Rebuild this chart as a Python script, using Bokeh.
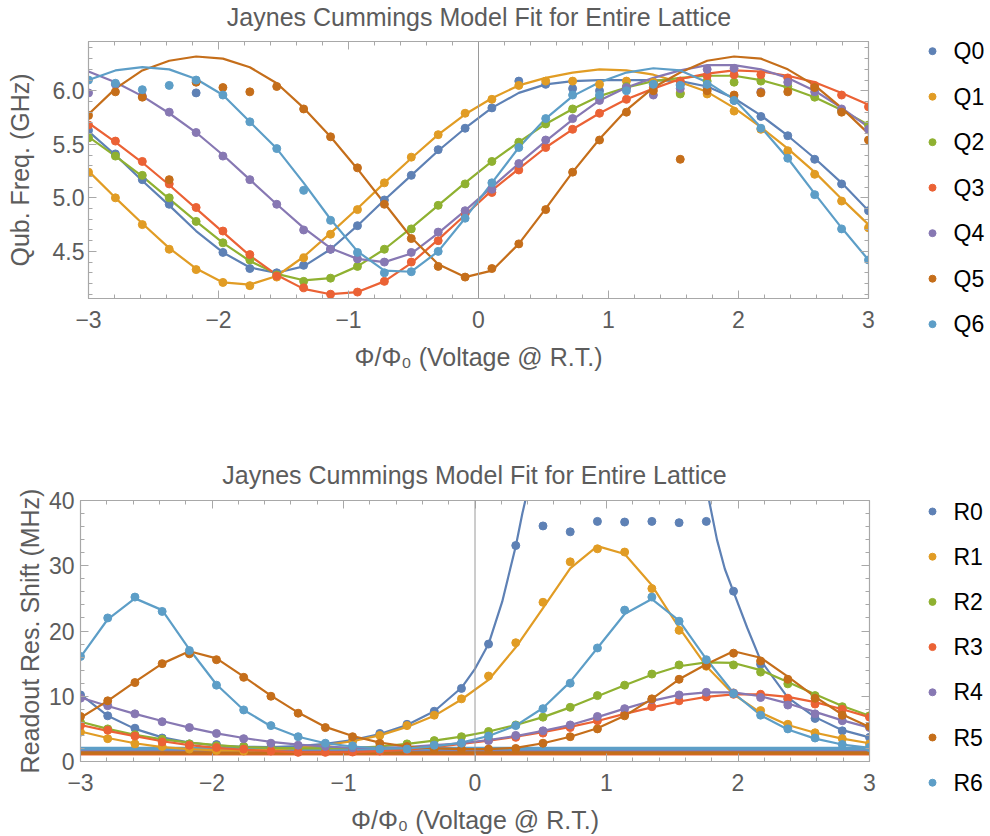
import numpy as np
from bokeh.plotting import figure
from bokeh.models import Range1d, Span, LinearAxis, FixedTicker
from bokeh.layouts import column, row
from bokeh.core.properties import value
from bokeh.embed import file_html
from bokeh.resources import INLINE

# ---------------- data ----------------
X = [-3.0, -2.793, -2.586, -2.379, -2.172, -1.966, -1.759, -1.552, -1.345, -1.138,
     -0.931, -0.724, -0.517, -0.310, -0.103, 0.103, 0.310, 0.517, 0.724, 0.931,
     1.138, 1.345, 1.552, 1.759, 1.966, 2.172, 2.379, 2.586, 2.793, 3.0]

X_TICKS = [-3, -2, -1, 0, 1, 2, 3]
X_TICK_LABELS = ["\u22123", "\u22122", "\u22121", "0", "1", "2", "3"]
Q_Y_TICKS = [4.5, 5.0, 5.5, 6.0]
Q_Y_TICK_LABELS = ["4.5", "5.0", "5.5", "6.0"]
R_Y_TICKS = [0, 10, 20, 30, 40]
R_Y_TICK_LABELS = ["0", "10", "20", "30", "40"]

Q_NAMES = ["Q0", "Q1", "Q2", "Q3", "Q4", "Q5", "Q6"]
R_NAMES = ["R0", "R1", "R2", "R3", "R4", "R5", "R6"]

Q0 = [5.63, 5.41, 5.17, 4.94, 5.98, 4.49, 4.34, 4.30, 4.37, 4.52, 4.74, 4.98, 5.21, 5.45, 5.65,
      5.84, 6.09, 6.06, 6.02, 6.00, 6.03, 6.08, 6.06, 6.03, 5.91, 5.76, 5.58, 5.36, 5.13, 4.88]
Q0_FIT = [5.62, 5.40, 5.16, 4.93, 4.69, 4.49, 4.35, 4.30, 4.36, 4.52, 4.74, 4.98, 5.21, 5.44, 5.65,
          5.84, 5.98, 6.06, 6.09, 6.10, 6.10, 6.10, 6.09, 6.04, 5.93, 5.77, 5.58, 5.37, 5.14, 4.88]
Q1 = [5.24, 5.00, 4.75, 4.52, 4.33, 4.21, 4.18, 4.26, 4.44, 4.66, 4.89, 5.14, 5.38, 5.59, 5.79,
      5.92, 6.05, 6.09, 6.09, 6.06, 6.09, 6.08, 5.98, 5.97, 5.81, 5.64, 5.44, 5.22, 4.97, 4.72]
Q1_FIT = [5.25, 5.00, 4.76, 4.53, 4.34, 4.21, 4.19, 4.27, 4.45, 4.67, 4.90, 5.14, 5.37, 5.59, 5.78,
          5.93, 6.05, 6.12, 6.17, 6.20, 6.19, 6.15, 6.08, 5.99, 5.84, 5.66, 5.46, 5.24, 4.99, 4.75]
Q2 = [5.56, 5.39, 5.21, 5.00, 4.78, 4.58, 4.42, 4.28, 4.22, 4.25, 4.36, 4.52, 4.71, 4.93, 5.13,
      5.34, 5.52, 5.69, 5.83, 5.94, 6.04, 6.06, 5.97, 6.09, 6.08, 6.09, 6.04, 5.94, 5.82, 5.68]
Q2_FIT = [5.57, 5.39, 5.20, 4.99, 4.78, 4.58, 4.41, 4.29, 4.23, 4.25, 4.36, 4.52, 4.72, 4.93, 5.14,
          5.34, 5.52, 5.69, 5.83, 5.95, 6.03, 6.09, 6.12, 6.14, 6.14, 6.10, 6.03, 5.94, 5.82, 5.68]
Q3 = [5.68, 5.53, 5.34, 5.13, 4.91, 4.69, 4.47, 4.27, 4.16, 4.10, 4.12, 4.22, 4.40, 4.60, 4.85,
      5.05, 5.26, 5.47, 5.64, 5.79, 5.92, 6.03, 6.09, 6.14, 6.15, 6.15, 6.12, 6.05, 5.96, 5.85]
Q3_FIT = [5.70, 5.52, 5.33, 5.12, 4.90, 4.68, 4.46, 4.28, 4.15, 4.10, 4.12, 4.22, 4.39, 4.61, 4.84,
          5.07, 5.27, 5.47, 5.64, 5.79, 5.92, 6.02, 6.11, 6.16, 6.19, 6.18, 6.14, 6.08, 5.98, 5.87]
Q4 = [5.98, 6.06, 5.95, 5.80, 5.61, 5.39, 5.17, 4.94, 4.70, 4.52, 4.43, 4.40, 4.49, 4.68, 4.88,
      5.08, 5.32, 5.54, 5.74, 5.91, 6.03, 5.96, 6.02, 6.20, 6.21, 5.99, 6.08, 5.99, 5.83, 5.64]
Q4_FIT = [6.18, 6.08, 5.95, 5.79, 5.61, 5.40, 5.17, 4.94, 4.72, 4.53, 4.43, 4.40, 4.48, 4.67, 4.88,
          5.10, 5.32, 5.53, 5.73, 5.91, 6.03, 6.12, 6.19, 6.24, 6.24, 6.20, 6.12, 6.00, 5.84, 5.66]
Q5 = [5.77, 5.99, 5.94, 5.17, 6.08, 6.03, 5.99, 6.04, 5.83, 5.57, 5.28, 4.94, 4.62, 4.36, 4.26,
      4.34, 4.57, 4.89, 5.24, 5.54, 5.80, 6.00, 5.36, 6.00, 5.96, 5.98, 5.99, 6.03, 5.80, 5.54]
Q5_FIT = [5.78, 6.02, 6.19, 6.28, 6.32, 6.30, 6.22, 6.07, 5.84, 5.57, 5.27, 4.95, 4.63, 4.38, 4.26,
          4.32, 4.57, 4.90, 5.24, 5.55, 5.82, 6.03, 6.17, 6.28, 6.32, 6.30, 6.20, 6.05, 5.84, 5.60]
Q6 = [6.10, 6.07, 6.01, 6.05, 6.10, 5.96, 5.71, 5.46, 5.07, 4.79, 4.49, 4.30, 4.31, 4.50, 4.81,
      5.14, 5.47, 5.74, 5.96, 5.96, 6.00, 6.06, 6.05, 6.06, 5.91, 5.65, 5.37, 5.03, 4.71, 4.42]
Q6_FIT = [6.10, 6.19, 6.22, 6.20, 6.11, 5.96, 5.71, 5.46, 5.14, 4.80, 4.50, 4.32, 4.31, 4.50, 4.81,
          5.14, 5.47, 5.74, 5.95, 6.08, 6.17, 6.21, 6.19, 6.08, 5.92, 5.66, 5.37, 5.04, 4.72, 4.42]

R0 = [10.2, 7.0, 5.1, 3.6, 2.7, 2.6, 2.3, 2.2, 2.3, 2.6, 3.2, 4.3, 5.7, 7.7, 11.2,
      18.0, 33.1, 36.1, 35.2, 36.8, 36.7, 36.8, 36.6, 36.8, 26.1, 14.9, 9.5, 6.6, 4.7, 3.7]
R0_FIT_LEFT_X = [-3.0, -2.793, -2.586, -2.379, -2.172, -1.966, -1.759, -1.552, -1.345, -1.138,
                 -0.931, -0.724, -0.517, -0.310, -0.103, 0.0, 0.103, 0.207, 0.310, 0.36, 0.40, 0.44]
R0_FIT_LEFT_Y = [10.3, 7.0, 5.0, 3.7, 2.9, 2.45, 2.25, 2.2, 2.35, 2.7,
                 3.3, 4.2, 5.6, 7.7, 11.3, 14.2, 18.0, 24.5, 33.0, 38.0, 41.5, 47.0]
R0_FIT_RIGHT_X = [1.74, 1.78, 1.84, 1.90, 1.966, 2.07, 2.172, 2.379, 2.586, 2.793, 3.0]
R0_FIT_RIGHT_Y = [50.0, 40.0, 34.0, 29.5, 26.0, 20.5, 15.5, 9.8, 6.8, 4.8, 3.7]
R1 = [4.5, 3.5, 2.7, 2.3, 1.9, 1.7, 1.6, 1.8, 2.1, 2.5, 3.1, 4.0, 5.5, 7.1, 9.6,
      13.1, 18.2, 24.4, 30.6, 32.6, 32.1, 26.5, 20.1, 14.6, 10.5, 7.8, 5.7, 4.4, 3.5, 2.7]
R1_FIT = [4.6, 3.6, 2.8, 2.2, 1.9, 1.7, 1.7, 1.8, 2.1, 2.5, 3.1, 4.0, 5.3, 7.0, 9.5,
          12.5, 17.5, 23.5, 29.6, 33.0, 31.8, 27.0, 20.5, 14.6, 10.3, 7.5, 5.6, 4.4, 3.5, 2.8]
R2 = [6.0, 5.0, 4.1, 3.4, 2.7, 2.4, 2.3, 2.1, 2.0, 1.9, 2.0, 2.3, 2.7, 3.2, 3.8,
      4.6, 5.6, 6.8, 8.3, 10.1, 11.7, 13.4, 14.8, 15.3, 14.8, 13.7, 11.9, 10.1, 8.4, 7.0]
R2_FIT = [6.1, 5.0, 4.1, 3.4, 2.9, 2.5, 2.2, 2.1, 2.0, 2.0, 2.1, 2.3, 2.7, 3.2, 3.8,
          4.6, 5.6, 6.8, 8.3, 10.0, 11.7, 13.3, 14.6, 15.2, 15.1, 14.0, 12.2, 10.3, 8.5, 7.0]
R3 = [5.5, 4.8, 3.9, 3.0, 2.5, 2.15, 1.9, 1.6, 1.4, 1.4, 1.45, 1.6, 1.8, 2.2, 2.7,
      3.3, 3.7, 4.35, 5.2, 6.25, 7.3, 8.4, 9.3, 9.9, 10.3, 10.3, 9.7, 8.8, 8.0, 6.8]
R3_FIT = [5.6, 4.7, 3.9, 3.1, 2.5, 2.1, 1.8, 1.6, 1.45, 1.4, 1.45, 1.6, 1.8, 2.2, 2.7,
          3.2, 3.8, 4.5, 5.3, 6.2, 7.3, 8.3, 9.2, 9.9, 10.3, 10.3, 9.9, 9.1, 8.0, 6.8]
R4 = [9.7, 8.55, 7.3, 6.1, 5.2, 4.3, 3.5, 2.8, 2.5, 2.3, 2.1, 2.0, 2.2, 2.5, 2.8,
      3.2, 4.0, 4.7, 5.6, 6.9, 8.1, 9.5, 10.2, 10.6, 10.5, 9.8, 8.65, 7.3, 6.25, 5.2]
R4_FIT = [9.8, 8.5, 7.3, 6.2, 5.2, 4.3, 3.6, 3.0, 2.6, 2.3, 2.1, 2.1, 2.2, 2.5, 2.8,
          3.3, 3.9, 4.7, 5.6, 6.8, 8.1, 9.3, 10.2, 10.6, 10.6, 10.0, 8.9, 7.6, 6.3, 5.2]
R5 = [6.9, 9.3, 12.1, 15.0, 16.5, 15.6, 12.9, 10.0, 7.4, 5.2, 3.8, 2.8, 2.3, 1.9, 1.9,
      1.9, 2.0, 2.8, 3.8, 5.0, 7.0, 9.6, 12.6, 14.7, 16.6, 15.4, 12.6, 9.7, 7.1, 5.4]
R5_FIT = [6.7, 9.3, 12.2, 15.0, 16.9, 15.8, 13.0, 10.1, 7.5, 5.3, 3.9, 2.9, 2.3, 2.0, 1.9,
          1.9, 2.1, 2.8, 3.8, 5.1, 7.0, 9.6, 12.6, 14.9, 16.9, 15.9, 13.0, 9.9, 7.2, 5.3]
R6 = [16.1, 22.0, 25.2, 23.0, 17.0, 11.7, 7.9, 5.5, 3.8, 2.8, 2.4, 1.9, 1.9, 2.5, 2.8,
      3.9, 5.5, 8.1, 12.0, 17.4, 23.2, 25.2, 21.5, 15.6, 10.4, 7.1, 5.0, 3.6, 2.6, 2.15]
R6_FIT = [16.0, 21.8, 25.0, 23.2, 17.2, 11.8, 7.9, 5.4, 3.8, 2.8, 2.3, 2.0, 2.0, 2.3, 2.9,
          3.9, 5.5, 8.2, 12.2, 17.4, 22.6, 24.9, 21.6, 15.7, 10.5, 7.1, 4.9, 3.5, 2.6, 2.1]
R_FLAT = [1.85, 1.35, 1.6, 1.2, 1.7, 1.3, 2.0]

COLORS = ["#5E81B5", "#E19C24", "#8FB131", "#EB6235", "#8778B3", "#C56E1A", "#5D9EC7"]

FONT = "Liberation Sans"
GRAY = "#5c5c5c"
FRAME = "#a8a8a8"
TITLE = "Jaynes Cummings Model Fit for Entire Lattice"
XLABEL = "\u03a6/\u03a6\u2080 (Voltage @ R.T.)"

FULL_W = 990
MAIN_W = 880
LEG_W = 110


def no_align(p):
    try:
        p.frame_align = False
    except Exception:
        pass


def blank_fig(width, height):
    f = figure(width=width, height=height, x_range=Range1d(0, width), y_range=Range1d(height, 0),
               output_backend="svg", toolbar_location=None, min_border=0, title=None,
               x_axis_type=None, y_axis_type=None)
    no_align(f)
    f.outline_line_color = None
    f.grid.visible = False
    return f


def title_fig(height, cx, cy):
    f = blank_fig(FULL_W, height)
    f.text(x=[cx], y=[cy], text=[TITLE], text_font=value(FONT),
           text_font_size=value("25px"), text_baseline="middle", text_align="center",
           text_color=GRAY)
    return f


def make_fig(height, y_range, border, yticks, ylabels, yminor, ylabel, ytick_standoff, ylab_standoff):
    p = figure(width=MAIN_W, height=height, x_range=Range1d(-3, 3), y_range=Range1d(*y_range),
               output_backend="svg", toolbar_location=None, title=None,
               min_border_left=border[0], min_border_right=border[1],
               min_border_top=border[2], min_border_bottom=border[3])
    no_align(p)
    p.outline_line_color = FRAME
    p.outline_line_width = 1.2
    p.grid.visible = False
    p.background_fill_color = "white"
    p.border_fill_color = "white"

    xt = FixedTicker(ticks=X_TICKS, minor_ticks=[-3 + 0.2 * i for i in range(31)])
    yt = FixedTicker(ticks=yticks, minor_ticks=yminor)
    xo = {t: l for t, l in zip(X_TICKS, X_TICK_LABELS)}
    yo = {t: l for t, l in zip(yticks, ylabels)}

    bottom = p.xaxis[0]
    left = p.yaxis[0]
    top = LinearAxis()
    right = LinearAxis()
    p.add_layout(top, "above")
    p.add_layout(right, "right")

    for ax, tk, ov, show in [(bottom, xt, xo, True), (top, xt, xo, False),
                             (left, yt, yo, True), (right, yt, yo, False)]:
        ax.ticker = tk
        ax.axis_line_color = FRAME
        ax.major_tick_line_color = FRAME
        ax.minor_tick_line_color = FRAME
        ax.major_tick_in = 8
        ax.major_tick_out = 0
        ax.minor_tick_in = 4
        ax.minor_tick_out = 0
        ax.major_label_text_font = FONT
        ax.major_label_text_color = GRAY
        if show:
            ax.major_label_overrides = ov
            ax.major_label_text_font_size = "23px"
            ax.axis_label_text_font = FONT
            ax.axis_label_text_font_size = "25px"
            ax.axis_label_text_font_style = "normal"
            ax.axis_label_text_color = GRAY
        else:
            ax.major_label_text_font_size = "1px"
            ax.major_label_text_alpha = 0
            ax.major_label_standoff = 0
            ax.axis_label_standoff = 0

    bottom.major_label_standoff = 12
    bottom.axis_label = XLABEL
    bottom.axis_label_standoff = 12
    left.major_label_standoff = ytick_standoff
    left.axis_label = ylabel
    left.axis_label_standoff = ylab_standoff

    p.add_layout(Span(location=0, dimension="height", line_color="#9a9a9a", line_width=1))
    return p


def legend_fig(height, names, first_y, pitch):
    lf = blank_fig(LEG_W, height)
    ys = [first_y + pitch * i for i in range(len(names))]
    lf.scatter(x=[52] * len(names), y=ys, size=7, fill_color=COLORS, line_color=COLORS)
    lf.text(x=[73] * len(names), y=ys, text=names, text_font=value(FONT),
            text_font_size=value("23px"), text_baseline="middle", text_align="left",
            text_color="black")
    return lf


# ---------------- top chart ----------------
t1 = title_fig(34, 478.5, 16.0)
p1 = make_fig(406, (4.06, 6.46), (88, 12, 7, 142), Q_Y_TICKS, Q_Y_TICK_LABELS,
              [round(4.1 + 0.1 * i, 2) for i in range(24)], "Qub. Freq. (GHz)", 4, 16)

Q_DATA = [Q0, Q1, Q2, Q3, Q4, Q5, Q6]
Q_FITS = [Q0_FIT, Q1_FIT, Q2_FIT, Q3_FIT, Q4_FIT, Q5_FIT, Q6_FIT]
for fit, c in zip(Q_FITS, COLORS):
    p1.line(X, fit, line_color=c, line_width=2.2)
for d, c in zip(Q_DATA, COLORS):
    p1.scatter(X, d, size=8, fill_color=c, line_color=c)
l1 = legend_fig(406, Q_NAMES, 16.7, 45.5)

# ---------------- bottom chart ----------------
t2 = title_fig(50, 474.0, 34.5)
p2 = make_fig(346, (0, 40), (80, 11, 10, 75), R_Y_TICKS, R_Y_TICK_LABELS,
              [2 * i for i in range(21)], "Readout Res. Shift (MHz)", 6, 2)

for lvl, c in zip(R_FLAT, COLORS):
    p2.line([X[0], X[-1]], [lvl, lvl], line_color=c, line_width=3.5)

p2.line(R0_FIT_LEFT_X, R0_FIT_LEFT_Y, line_color=COLORS[0], line_width=2.2)
p2.line(R0_FIT_RIGHT_X, R0_FIT_RIGHT_Y, line_color=COLORS[0], line_width=2.2)
R_FITS = [R1_FIT, R2_FIT, R3_FIT, R4_FIT, R5_FIT, R6_FIT]
for fit, c in zip(R_FITS, COLORS[1:]):
    p2.line(X, fit, line_color=c, line_width=2.2)
R_DATA = [R0, R1, R2, R3, R4, R5, R6]
for d, c in zip(R_DATA, COLORS):
    p2.scatter(X, d, size=8, fill_color=c, line_color=c)
l2 = legend_fig(346, R_NAMES, 21.0, 45.2)

layout = column(t1, row(p1, l1, spacing=0), t2, row(p2, l2, spacing=0), spacing=0)
open("out.html", "w").write(file_html(layout, INLINE))
